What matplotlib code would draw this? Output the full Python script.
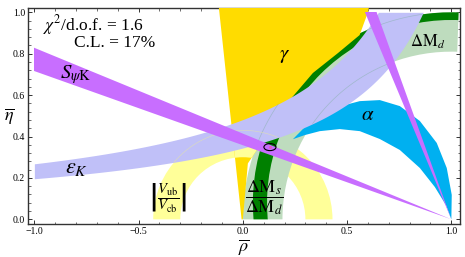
import matplotlib
matplotlib.use("Agg")
import matplotlib.pyplot as plt
import numpy as np
from matplotlib.patches import Wedge, Polygon, Ellipse
from matplotlib.ticker import MultipleLocator, FixedLocator

plt.rcParams['font.family'] = ['Liberation Serif', 'DejaVu Serif']
plt.rcParams['mathtext.fontset'] = 'stix'

# fit summary
chi2_dof = 1.6
conf_level = 17

# apex of the triangle (rho, eta) and its error ellipse
apex = (0.13, 0.349)
apex_size = (0.058, 0.034)

# gamma region outline (rho, eta)
gamma_rho = [-0.006, 0.0, 0.024, 0.225, 0.336, 0.456, 0.56, 0.60, 0.61, -0.118]
gamma_eta = [0.0, 0.0, 0.27, 0.576, 0.707, 0.803, 0.89, 1.0, 1.05, 1.05]
# |Vub/Vcb|: annulus around (0,0)
vub_radii = (0.30, 0.43)
# Delta M_d: annulus around (1,0)
dmd_center = (1.0, 0.0)
dmd_radii = (0.81, 1.0)
# Delta M_s / Delta M_d: annulus (drawn inside the Delta M_d band)
dms_center = (1.0, 0.079)
dms_radii = (0.884, 0.952)
# S_psiK: sin(2 beta) -> beta band seen from (1,0)
beta_deg = (19.7, 22.5)
# epsilon_K hyperbola band: eta = a / (b - rho)
epsk_lower = (0.455, 1.32)
epsk_upper = (0.605, 1.255)
# alpha region boundary
alpha_outer_rho = [0.24, 0.321, 0.451, 0.561, 0.657, 0.753, 0.849, 0.930, 0.978, 1.002, 1.0]
alpha_outer_eta = [0.387, 0.470, 0.542, 0.571, 0.576, 0.547, 0.475, 0.369, 0.248, 0.118, 0.0]
alpha_inner_rho = [1.0, 0.974, 0.921, 0.849, 0.753, 0.657, 0.561, 0.465, 0.369, 0.297, 0.24]
alpha_inner_eta = [0.0, 0.069, 0.156, 0.248, 0.335, 0.388, 0.426, 0.436, 0.426, 0.407, 0.387]

c_gold = '#FFDC00'
c_vub = '#FFFF99'
c_blue = '#00B0F0'
c_green_l = '#BEDCBE'
c_green_d = '#008000'
c_lav = '#C0C0F8'
c_violet = '#C86EFF'

fig = plt.figure(figsize=(4.65, 2.57), dpi=100)
ax = fig.add_axes([0.060, 0.128, 0.929, 0.841])
ax.set_xlim(-1.031, 1.041)
ax.set_ylim(-0.023, 1.021)

# region inside which the bands are drawn
box = plt.Rectangle((-1.0, 0.0), 2.0, 1.0, transform=ax.transData)

# |Vub/Vcb|
ax.add_patch(Wedge((0, 0), vub_radii[1], 0, 180, width=vub_radii[1] - vub_radii[0],
                   color=c_vub, lw=0, zorder=2))

# Delta M_d
dmd = Wedge(dmd_center, dmd_radii[1], 88, 180, width=dmd_radii[1] - dmd_radii[0],
            color=c_green_l, lw=0, zorder=3)
ax.add_patch(dmd)
# Delta M_s / Delta M_d, only where it overlaps Delta M_d
dms = Wedge(dms_center, dms_radii[1], 80, 190, width=dms_radii[1] - dms_radii[0],
            color=c_green_d, lw=0, zorder=4)
ax.add_patch(dms)
dms.set_clip_path(dmd)

# gamma
gam = Polygon(list(zip(gamma_rho, gamma_eta)), closed=True, color=c_gold, lw=0, zorder=4.5)
ax.add_patch(gam)
# |Vub/Vcb| stays visible on top of gamma
vub2 = Wedge((0, 0), vub_radii[1], 0, 180, width=vub_radii[1] - vub_radii[0],
             color=c_vub, lw=0, zorder=4.6)
ax.add_patch(vub2)
vub2.set_clip_path(gam)

# alpha
poly = list(zip(alpha_outer_rho, alpha_outer_eta)) + list(zip(alpha_inner_rho, alpha_inner_eta))
ax.add_patch(Polygon(poly, closed=True, color=c_blue, lw=0, zorder=5))

# epsilon_K
rho = np.linspace(-1.0, epsk_lower[1] - epsk_lower[0], 400)
lo = np.minimum(epsk_lower[0] / (epsk_lower[1] - rho), 1.0)
hi = np.minimum(epsk_upper[0] / (epsk_upper[1] - rho), 1.0)
lav = ax.fill_between(rho, lo, hi, color=c_lav, lw=0, zorder=6)

# S_psiK (both solutions for beta)
for b1, b2 in [beta_deg, (90 - beta_deg[1], 90 - beta_deg[0])]:
    w = Wedge((1.0, 0.0), 2.4, 180 - b2, 180 - b1, color=c_violet, lw=0, zorder=7)
    ax.add_patch(w)
    w.set_clip_path(box)

# faint boundary lines seen through the epsilon_K band
t = np.linspace(np.pi / 2, np.pi, 300)
for r in dmd_radii:
    ln, = ax.plot(dmd_center[0] + r * np.cos(t), dmd_center[1] + r * np.sin(t),
                  color='#7FAFA0', lw=0.5, alpha=0.5, zorder=6.5)
    ln.set_clip_path(lav.get_paths()[0], ax.transData)
for r in vub_radii:
    ln, = ax.plot(r * np.cos(2 * t), r * np.sin(2 * t) * np.sign(np.sin(2 * t)),
                  color='#E8E8A0', lw=0.5, alpha=0.6, zorder=6.5)
    ln.set_clip_path(lav.get_paths()[0], ax.transData)

# apex
ax.add_patch(Ellipse(apex, apex_size[0], apex_size[1], fill=False, ec='black', lw=0.8, zorder=9))
ax.plot(*apex, 'o', ms=1.2, color='#E060C0', zorder=9)

# labels
ax.text(-0.96, 0.94, r'$\chi^2$/d.o.f. = %.1f' % chi2_dof, fontsize=12.5, va='center', ha='left')
ax.text(-0.81, 0.85, 'C.L. = %d%%' % conf_level, fontsize=12.5, va='center', ha='left')
ax.text(-0.80, 0.70, r'$S_{\psi\mathrm{K}}$', fontsize=15, ha='center', va='center', zorder=10)
ax.text(-0.80, 0.245, r'$\epsilon_K$', fontsize=16, ha='center', va='center', zorder=10)
ax.text(-0.36, 0.105, r'$\left|\dfrac{V_{\mathrm{ub}}}{V_{\mathrm{cb}}}\right|$', fontsize=10.5,
        ha='center', va='center', zorder=10)
ax.text(0.10, 0.105, r'$\dfrac{\Delta\mathrm{M}_s}{\Delta\mathrm{M}_d}$', fontsize=13,
        ha='center', va='center', zorder=10)
ax.text(0.20, 0.79, r'$\gamma$', fontsize=15, ha='center', va='center', zorder=10)
ax.text(0.60, 0.50, r'$\alpha$', fontsize=15, ha='center', va='center', zorder=10)
ax.text(0.887, 0.857, r'$\Delta\mathrm{M}_d$', fontsize=12, ha='center', va='center', zorder=10)

ax.set_xlabel(r'$\overline{\rho}$', fontsize=13, labelpad=1)
ax.set_ylabel(r'$\overline{\eta}$', fontsize=13, rotation=0, va='center')
ax.yaxis.set_label_coords(-0.043, 0.50)

ax.xaxis.set_major_locator(FixedLocator([-1.0, -0.5, 0.0, 0.5, 1.0]))
ax.xaxis.set_minor_locator(MultipleLocator(0.1))
ax.yaxis.set_major_locator(FixedLocator([0.0, 0.2, 0.4, 0.6, 0.8, 1.0]))
ax.yaxis.set_minor_locator(MultipleLocator(0.04))
ax.xaxis.set_major_formatter(plt.FuncFormatter(lambda v, p: ('%.1f' % v).replace('-', '\u2212')))
ax.yaxis.set_major_formatter(plt.FuncFormatter(lambda v, p: '%.1f' % v))
ax.tick_params(which='both', direction='in', top=True, right=True, labelsize=7, pad=2,
               color='#333333')
ax.tick_params(which='major', length=3, width=0.7)
ax.tick_params(which='minor', length=1.8, width=0.5)
for s in ax.spines.values():
    s.set_color('#333333')
    s.set_linewidth(1.0)

fig.savefig('out.png', dpi=100)
